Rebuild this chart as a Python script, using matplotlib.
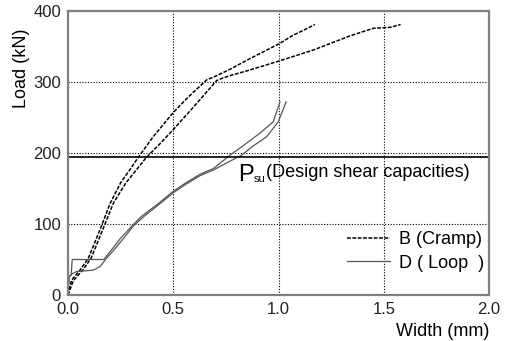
import matplotlib
matplotlib.use("Agg")
import matplotlib.pyplot as plt

plt.rcParams['font.family'] = ['Liberation Sans', 'DejaVu Sans']

# ---- data ----
b1_x = [0, 0.017, 0.057, 0.097, 0.152, 0.2, 0.25, 0.302, 0.334, 0.405, 0.5,
        0.572, 0.659, 0.70, 0.77, 0.865, 1.007, 1.07, 1.12, 1.173]
b1_y = [0, 21, 35, 52, 92, 129, 158, 180, 194, 223, 257, 279, 303, 308,
        318, 333, 354.5, 366, 373, 381]

b2_x = [0, 0.025, 0.07, 0.11, 0.165, 0.215, 0.275, 0.335, 0.37, 0.44, 0.5, 0.6,
        0.706, 0.73, 0.77, 0.865, 1.007, 1.165, 1.34, 1.45, 1.53, 1.58]
b2_y = [0, 20, 35, 52, 92, 129, 158, 180, 193, 214, 233, 266, 302, 305, 309,
        317, 330, 345, 365, 375.6, 377, 381]

d1_x = [0, 0.004, 0.015, 0.02, 0.17, 0.2, 0.25, 0.3, 0.35, 0.43, 0.5, 0.56,
        0.627, 0.69, 0.77, 0.84, 0.912, 0.975, 1.007]
d1_y = [0, 25, 28, 50, 50, 61, 80, 96, 111, 129, 146, 158, 170, 178, 197, 212,
        228, 244, 272]

d2_x = [0, 0.006, 0.02, 0.041, 0.08, 0.12, 0.152, 0.184, 0.22, 0.27, 0.31, 0.358,
        0.43, 0.5, 0.56, 0.627, 0.69, 0.76, 0.825, 0.88, 0.944, 0.999, 1.036]
d2_y = [0, 26, 30, 33, 34, 35, 40, 52, 64, 82, 97, 110, 127, 144, 156, 168, 176,
        187, 197, 210, 223, 244, 272]

psu = 195
x_ticks = [0.0, 0.5, 1.0, 1.5, 2.0]
y_ticks = [0, 100, 200, 300, 400]
x_ticklabels = ['0.0', '0.5', '1.0', '1.5', '2.0']
y_ticklabels = ['0', '100', '200', '300', '400']
label_b = 'B (Cramp)'
label_d = 'D ( Loop  )'

# ---- figure ----
fig = plt.figure(figsize=(5.08, 3.41), dpi=100)
ax = fig.add_axes([68/508, 46/341, 421/508, 284/341])

ax.set_xlim(0, 2.0)
ax.set_ylim(0, 400)

dash = (0, (2.5, 1.0))
ax.plot(b1_x, b1_y, color='black', lw=1.1, linestyle=dash, label=label_b)
ax.plot(b2_x, b2_y, color='black', lw=1.1, linestyle=dash)
ax.plot(d1_x, d1_y, color='#555555', lw=0.9, label=label_d)
ax.plot(d2_x, d2_y, color='#555555', lw=0.9)

ax.axhline(psu, color='black', lw=1.2)

ax.set_xticks(x_ticks)
ax.set_xticklabels(x_ticklabels)
ax.set_yticks(y_ticks)
ax.set_yticklabels(y_ticklabels)
ax.tick_params(length=0, labelsize=12, colors='#222222', pad=5)

ax.grid(True, color='black', lw=0.8, linestyle=(0, (1, 1.5)))
for s in ax.spines.values():
    s.set_color('#808080')
    s.set_linewidth(1.6)

# Psu annotation
ax.text(0.806, 161, 'P', fontsize=17, ha='left', va='baseline')
ax.text(0.884, 159, 'su', fontsize=8, ha='left', va='baseline')
ax.text(0.94, 166, '(Design shear capacities)', fontsize=13, ha='left', va='baseline')

ax.set_xlabel('Width (mm)', fontsize=13, loc='right', labelpad=4)
ax.text(-0.11, 0.80, 'Load (kN)', fontsize=13, rotation=90, ha='center', va='center',
        transform=ax.transAxes)

leg = ax.legend(loc='center left', bbox_to_anchor=(0.663, 0.153), frameon=False,
                fontsize=13, handlelength=2.4, handletextpad=0.5, labelspacing=0.35,
                borderpad=0, borderaxespad=0)

fig.savefig('out.png', dpi=100)
